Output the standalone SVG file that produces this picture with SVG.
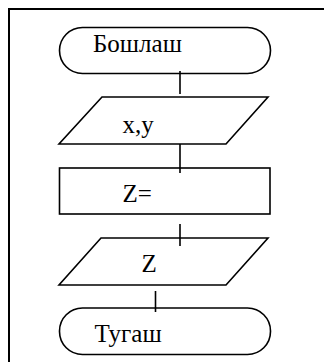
<svg xmlns="http://www.w3.org/2000/svg" width="324" height="362" viewBox="0 0 324 362">
  <style>
    .shape { fill: #ffffff; stroke: #000000; stroke-width: 1.6; }
    .conn { stroke: #000000; stroke-width: 1.6; fill: none; }
    .frame { fill: none; stroke: #000000; stroke-width: 2; }
    .label { font-family: "Liberation Serif", "Times New Roman", serif; font-size: 25px; fill: #000000; }
  </style>
  <rect width="324" height="362" fill="#ffffff"/>
  <!-- outer frame (runs past the right and bottom edges) -->
  <rect class="frame" x="9" y="9" width="340" height="380"/>

  <g id="start">
    <rect class="shape" x="59.5" y="27.5" width="211" height="46" rx="23" ry="23"/>
    <text class="label" x="93" y="52">Бошлаш</text>
  </g>

  <g id="input">
    <polygon class="shape" points="102,97 268,97 226,144 59,144"/>
    <text class="label" x="122.5" y="133">x,y</text>
  </g>

  <g id="process">
    <rect class="shape" x="59.5" y="168" width="210.5" height="46"/>
    <text class="label" x="122.5" y="202">Z=</text>
  </g>

  <g id="output">
    <polygon class="shape" points="101,238 268,238 226,285 59,285"/>
    <text class="label" x="141.5" y="272">Z</text>
  </g>

  <g id="end">
    <rect class="shape" x="59.5" y="308" width="211" height="46.5" rx="23" ry="23"/>
    <text class="label" x="94.5" y="342">Тугаш</text>
  </g>

  <g id="connectors">
    <line class="conn" x1="180" y1="71" x2="180" y2="94"/>
    <line class="conn" x1="180" y1="144" x2="180" y2="173"/>
    <line class="conn" x1="180" y1="224" x2="180" y2="246"/>
    <line class="conn" x1="155.5" y1="291" x2="155.5" y2="312"/>
  </g>
</svg>
